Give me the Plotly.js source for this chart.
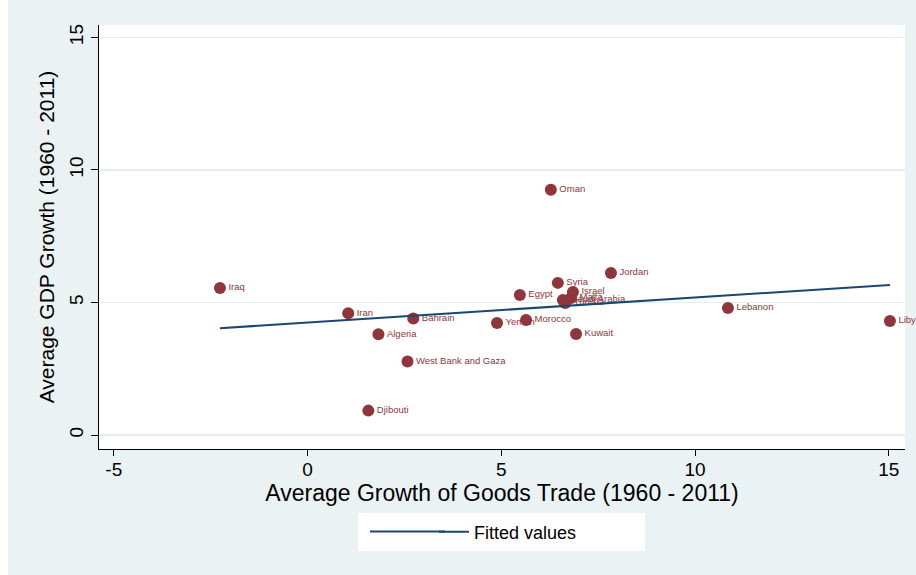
<!DOCTYPE html>
<html>
<head>
<meta charset="utf-8">
<script src="https://cdn.plot.ly/plotly-3.0.1.min.js"></script>
<style>html,body{margin:0;padding:0;background:#fff;}#chart{width:916px;height:575px;}</style>
</head>
<body>
<div id="chart"></div>
<script>
// Data
const countries = ["Oman","Jordan","Syria","Israel","Egypt","Saudi Arabia","Malta","Tunisia","Yemen","Morocco","Kuwait","Lebanon","Libya","Iraq","Iran","Bahrain","Algeria","West Bank and Gaza","Djibouti"];
const tradeGrowth = [6.28, 7.83, 6.46, 6.85, 5.48, 6.59, 6.80, 6.65, 4.89, 5.64, 6.93, 10.85, 15.03, -2.26, 1.05, 2.73, 1.83, 2.58, 1.57];
const gdpGrowth   = [9.25, 6.11, 5.74, 5.40, 5.28, 5.09, 5.17, 4.98, 4.23, 4.34, 3.81, 4.79, 4.30, 5.55, 4.59, 4.40, 3.80, 2.77, 0.92];
const fitX = [-2.26, 15.03];
const fitY = [4.03, 5.66];
const xTicks = [-5, 0, 5, 10, 15];
const yTicks = [0, 5, 10, 15];

const maroon = '#90353b';
const navy = '#1a476f';
const font = 'Liberation Sans, Arial, sans-serif';

const traces = [
  {
    x: tradeGrowth, y: gdpGrowth, text: countries,
    mode: 'markers+text', type: 'scatter',
    textposition: 'middle right',
    textfont: {family: font, size: 9.5, color: maroon},
    marker: {color: maroon, size: 12, line: {width: 0}},
    cliponaxis: false,
    showlegend: false, hoverinfo: 'skip'
  },
  {
    x: fitX, y: fitY, mode: 'lines', type: 'scatter',
    name: 'Fitted values',
    line: {color: navy, width: 2},
    showlegend: true, hoverinfo: 'skip'
  }
];

const layout = {
  width: 916, height: 575,
  margin: {l: 99, r: 11, t: 25, b: 126},
  paper_bgcolor: '#eaf2f3',
  plot_bgcolor: '#ffffff',
  font: {family: font, color: '#000'},
  xaxis: {
    range: [-5.381, 15.419],
    tickvals: xTicks, ticktext: xTicks.map(String),
    ticks: 'outside', ticklen: 6, tickcolor: '#000', tickwidth: 1,
    ticklabelstandoff: -3,
    tickfont: {family: font, size: 19, color: '#000'},
    showgrid: false, zeroline: false,
    showline: true, linecolor: '#000', linewidth: 1, mirror: false,
    title: {text: 'Average Growth of Goods Trade (1960 - 2011)', font: {family: font, size: 23, color: '#000'}, standoff: 0}
  },
  yaxis: {
    range: [-0.528, 15.47],
    tickvals: yTicks, ticktext: yTicks.map(String),
    tickangle: -90,
    ticks: 'outside', ticklen: 7, tickcolor: '#000', tickwidth: 1,
    tickfont: {family: font, size: 19, color: '#000'},
    showgrid: true, gridcolor: '#e4edf0', gridwidth: 1.5,
    zeroline: false,
    showline: true, linecolor: '#000', linewidth: 1, mirror: false,
    title: {text: 'Average GDP Growth (1960 - 2011)', font: {family: font, size: 21, color: '#000'}, standoff: 6}
  },
  showlegend: true,
  legend: {
    x: 0.4156, y: -0.1958, xanchor: 'left', yanchor: 'middle',
    orientation: 'h', bgcolor: 'rgba(0,0,0,0)',
    font: {family: font, size: 18, color: '#000'}
  },
  shapes: [
    {type: 'rect', xref: 'paper', yref: 'paper', x0: 0.3213, x1: 0.6774, y0: -0.2406, y1: -0.151, fillcolor: '#ffffff', line: {width: 0}, layer: 'below'},
    {type: 'line', xref: 'paper', yref: 'paper', x0: 0.3362, x1: 0.4293, y0: -0.1946, y1: -0.1946, line: {color: navy, width: 2}},
    {type: 'rect', xref: 'paper', yref: 'paper', x0: -0.1228, x1: -0.1129, y0: -0.31, y1: 1.07, fillcolor: '#ffffff', line: {width: 0}, layer: 'below'}
  ]
};

Plotly.newPlot('chart', traces, layout, {displayModeBar: false, staticPlot: true});
</script>
</body>
</html>
